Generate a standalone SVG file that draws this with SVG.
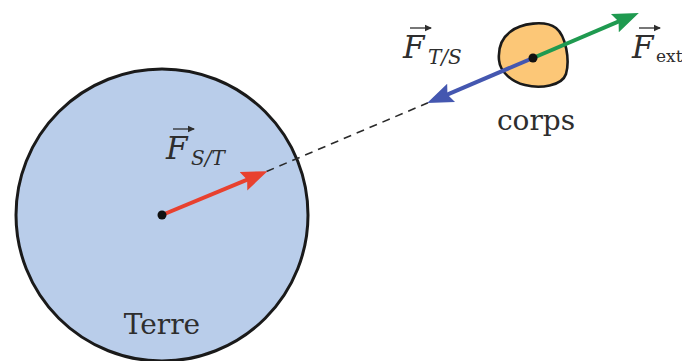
<svg xmlns="http://www.w3.org/2000/svg" width="682" height="361" viewBox="0 0 682 361">
<style>
text{font-family:'DejaVu Serif','Liberation Serif',serif;fill:#2e2e2e}
.it{font-style:italic}
.vec{stroke:#2e2e2e;stroke-width:1.3;fill:none}
.force{stroke-width:4;fill:none}
.dot{fill:#111}
</style>
<defs>
<marker id="hr" markerUnits="userSpaceOnUse" markerWidth="30" markerHeight="24" viewBox="0 -12 30 24" refX="10" refY="0" orient="auto"><path d="M0,-10 L26,0 L0,10 L4,0 Z" fill="#e8412f"/></marker>
<marker id="hb" markerUnits="userSpaceOnUse" markerWidth="30" markerHeight="24" viewBox="0 -12 30 24" refX="10" refY="0" orient="auto"><path d="M0,-10 L26,0 L0,10 L4,0 Z" fill="#4457b0"/></marker>
<marker id="hg" markerUnits="userSpaceOnUse" markerWidth="30" markerHeight="24" viewBox="0 -12 30 24" refX="10" refY="0" orient="auto"><path d="M0,-10 L26,0 L0,10 L4,0 Z" fill="#1f9a50"/></marker>
<marker id="va" markerUnits="userSpaceOnUse" markerWidth="8" markerHeight="8" viewBox="0 -4 8 8" refX="6" refY="0" orient="auto"><path d="M0,-3.2 L7,0 L0,3.2 Z" fill="#2e2e2e"/></marker>
</defs>

<g id="terre">
<circle cx="162" cy="215" r="146" fill="#b9cdea" stroke="#1a1a1a" stroke-width="3"/>
<text x="162" y="334" font-size="28" text-anchor="middle">Terre</text>
</g>

<g id="connectors">
<line x1="266.5" y1="171.5" x2="428" y2="102.7" stroke="#2a2a2a" stroke-width="1.6" stroke-dasharray="8,6"/>
<line class="force" x1="162" y1="215" x2="252.7" y2="177.4" stroke="#e8412f" marker-end="url(#hr)"/>
</g>

<g id="centre-terre"><circle class="dot" cx="162" cy="215" r="4.5"/></g>

<g id="corps">
<path d="M510,32 C521,23 545,20 556,28 C566,36 570,60 566,74 C562,86 540,89 525,85 C512,82 500,72 499,60 C498,48 502,38 510,32 Z" fill="#fcc777" stroke="#1a1a1a" stroke-width="2.6"/>
<text x="536" y="130" font-size="28" text-anchor="middle">corps</text>
</g>

<g id="forces-corps">
<line class="force" x1="533" y1="58" x2="441.9" y2="96.8" stroke="#4457b0" marker-end="url(#hb)"/>
<line class="force" x1="533" y1="58" x2="624.1" y2="19.2" stroke="#1f9a50" marker-end="url(#hg)"/>
<circle class="dot" cx="533" cy="58" r="4.5"/>
</g>

<g id="label-fst">
<text class="it" x="166" y="159" font-size="31">F</text>
<text class="it" x="191" y="165" font-size="20">S/T</text>
<line class="vec" x1="173" y1="129" x2="194" y2="129" marker-end="url(#va)"/>
</g>

<g id="label-fts">
<text class="it" x="403" y="58" font-size="31">F</text>
<text class="it" x="428" y="64" font-size="20">T/S</text>
<line class="vec" x1="410" y1="28" x2="431" y2="28" marker-end="url(#va)"/>
</g>

<g id="label-fext">
<text class="it" x="632" y="58" font-size="31">F</text>
<text x="656" y="62" font-size="17">ext</text>
<line class="vec" x1="639" y1="28" x2="660" y2="28" marker-end="url(#va)"/>
</g>
</svg>
